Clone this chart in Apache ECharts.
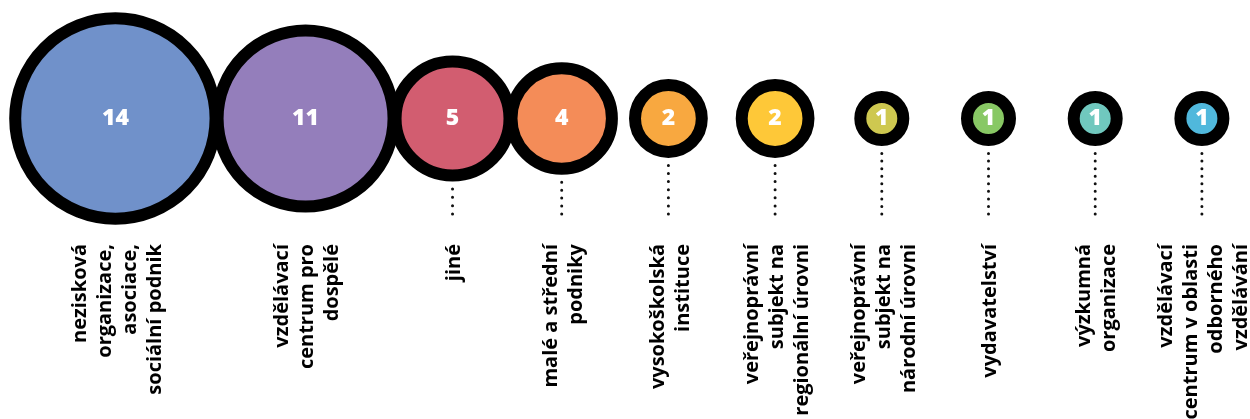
<!DOCTYPE html>
<html><head><meta charset="utf-8">
<script src="https://cdn.jsdelivr.net/npm/echarts@6/dist/echarts.min.js"></script>
<style>html,body{margin:0;padding:0;background:#fff}#c{width:1250px;height:419px}</style>
</head><body><div id="c"></div>
<script>
const categories = [
  "nezisková\norganizace,\nasociace,\nsociální podnik",
  "vzdělávací\ncentrum pro\ndospělé",
  "jiné",
  "malé a střední\npodniky",
  "vysokoškolská\ninstituce",
  "veřejnoprávní\nsubjekt na\nregionální úrovni",
  "veřejnoprávní\nsubjekt na\nnárodní úrovni",
  "vydavatelství",
  "výzkumná\norganizace",
  "vzdělávací\ncentrum v oblasti\nodborného\nvzdělávání"
];
const values = [14, 11, 5, 4, 2, 2, 1, 1, 1, 1];
const colors = ["#7091ca", "#947ebb", "#d25d70", "#f48c58", "#f8a840", "#fec838", "#cec850", "#88c864", "#70c8be", "#50b8dc"];

// layout: uniform slots; large bubbles are packed leftwards so they touch
const SLOT_START = 241.6, SLOT_STEP = 106.7, RING = 12, OVERLAP = 10;
function outerD(v) { return 57.4 * Math.sqrt(v) - 2.4; }
const n = values.length;
const xs = new Array(n);
for (let i = n - 1; i >= 0; i--) {
  let x = SLOT_START + i * SLOT_STEP;
  if (i < n - 1) x = Math.min(x, xs[i + 1] - (outerD(values[i]) + outerD(values[i + 1])) / 2 + OVERLAP);
  xs[i] = x;
}
const FONT = '"Open Sans", "DejaVu Sans", sans-serif';

const chart = echarts.init(document.getElementById('c'), null, {renderer: 'canvas'});
chart.setOption({
  animation: false,
  backgroundColor: '#fff',
  grid: {left: 0, right: 0, top: 0, height: 237},
  xAxis: {type: 'value', min: 0, max: 1250, show: false},
  yAxis: {type: 'value', min: -1, max: 1, show: false},
  series: [
    {
      type: 'custom',
      z: 1,
      silent: true,
      data: values.map((v, i) => [xs[i], 0, i]),
      renderItem: function (params, api) {
        const p = api.coord([api.value(0), api.value(1)]);
        const idx = api.value(2);
        const children = [];
        const start = p[1] + outerD(values[idx]) / 2 + 7.5;
        const end = p[1] + 95.5;
        if (start < end - 4) {
          const cnt = Math.max(1, Math.round((end - start) / 8));
          const gap = (end - start) / cnt;
          children.push({
            type: 'line',
            shape: {x1: p[0], y1: start, x2: p[0], y2: end + 0.5},
            style: {stroke: '#111', lineWidth: 3, lineCap: 'round', lineDash: [0, gap]}
          });
        }
        children.push({
          type: 'text',
          x: p[0] + 2, y: p[1] + 125.5,
          rotation: Math.PI / 2,
          style: {
            text: categories[idx],
            align: 'right', verticalAlign: 'middle',
            font: 'bold 20px ' + FONT,
            lineHeight: 25,
            fill: '#000'
          }
        });
        return {type: 'group', children: children};
      }
    },
    {
      type: 'scatter',
      z: 3,
      silent: true,
      data: values.map((v, i) => ({
        value: [xs[i], 0, v],
        name: categories[i],
        symbolSize: outerD(v) - RING,
        itemStyle: {color: colors[i], borderColor: '#000', borderWidth: RING, opacity: 1}
      })),
      label: {
        show: true, position: 'inside',
        formatter: d => String(d.value[2]),
        color: '#fff', fontWeight: 800, fontSize: 23, fontFamily: FONT
      }
    }
  ]
});
</script>
</body></html>
